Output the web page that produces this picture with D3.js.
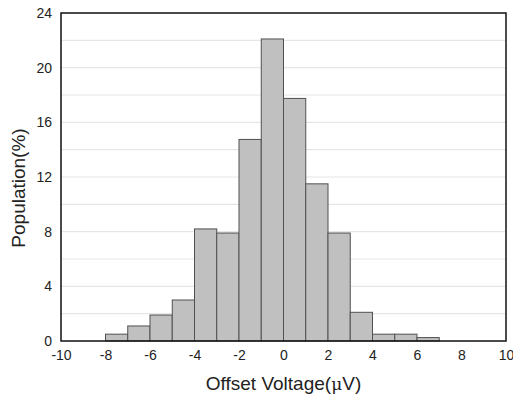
<!DOCTYPE html>
<html>
<head>
<meta charset="utf-8">
<script src="https://cdn.jsdelivr.net/npm/d3@7"></script>
<style>
body { margin: 0; background: #fff; }
text { font-family: "Liberation Sans", Arial, sans-serif; fill: #222; }
</style>
</head>
<body>
<svg id="chart" width="513" height="400"></svg>
<script>
// Data
const binStarts = [-8, -7, -6, -5, -4, -3, -2, -1, 0, 1, 2, 3, 4, 5, 6];
const binWidth = 1;
const population = [0.5, 1.1, 1.9, 3.0, 8.2, 7.9, 14.75, 22.1, 17.75, 11.5, 7.9, 2.1, 0.5, 0.5, 0.25];
const xTicks = [-10, -8, -6, -4, -2, 0, 2, 4, 6, 8, 10];
const yTicks = [0, 4, 8, 12, 16, 20, 24];
const yGrid = [2, 4, 6, 8, 10, 12, 14, 16, 18, 20, 22];

const svg = d3.select("#chart");
const m = { left: 61, right: 7, top: 13, bottom: 59 };
const W = 513, H = 400;
const x = d3.scaleLinear().domain([-10, 10]).range([m.left, W - m.right]);
const y = d3.scaleLinear().domain([0, 24]).range([H - m.bottom, m.top]);

// grid
svg.append("g").selectAll("line").data(yGrid).join("line")
  .attr("x1", x(-10)).attr("x2", x(10))
  .attr("y1", d => y(d)).attr("y2", d => y(d))
  .attr("stroke", "#e6e6e6").attr("stroke-width", 1.2);

// bars
svg.append("g").selectAll("rect").data(binStarts).join("rect")
  .attr("x", d => x(d))
  .attr("width", d => x(d + binWidth) - x(d))
  .attr("y", (d, i) => y(population[i]))
  .attr("height", (d, i) => y(0) - y(population[i]))
  .attr("fill", "#c0c0c0")
  .attr("stroke", "#505050")
  .attr("stroke-width", 1);

// frame
svg.append("rect")
  .attr("x", x(-10)).attr("y", y(24))
  .attr("width", x(10) - x(-10)).attr("height", y(0) - y(24))
  .attr("fill", "none").attr("stroke", "#111").attr("stroke-width", 1.5);

const fmt = d => String(d); // plain hyphen minus, as in the reference

// axes
const xAxis = d3.axisBottom(x).tickValues(xTicks).tickFormat(fmt).tickSize(0).tickPadding(9);
const gx = svg.append("g").attr("transform", `translate(0,${y(0)})`).call(xAxis);
gx.select(".domain").remove();
gx.selectAll("text").style("font-size", "14px").attr("fill", "#222")
  .style("font-family", "'Liberation Sans', Arial, sans-serif");

const yAxis = d3.axisLeft(y).tickValues(yTicks).tickFormat(fmt).tickSize(0).tickPadding(9);
const gy = svg.append("g").attr("transform", `translate(${x(-10)},0)`).call(yAxis);
gy.select(".domain").remove();
gy.selectAll("text").style("font-size", "14px").attr("fill", "#222")
  .style("font-family", "'Liberation Sans', Arial, sans-serif");

// labels
const xl = svg.append("text")
  .attr("x", (x(-10) + x(10)) / 2)
  .attr("y", 390)
  .attr("text-anchor", "middle")
  .style("font-size", "19px");
xl.append("tspan").text("Offset Voltage(");
xl.append("tspan").style("font-family", "'DejaVu Serif', serif").style("font-size", "17px").text("μ");
xl.append("tspan").text("V)");

svg.append("text")
  .attr("transform", `translate(25,188) rotate(-90)`)
  .attr("text-anchor", "middle")
  .style("font-size", "19px")
  .text("Population(%)");
</script>
</body>
</html>
